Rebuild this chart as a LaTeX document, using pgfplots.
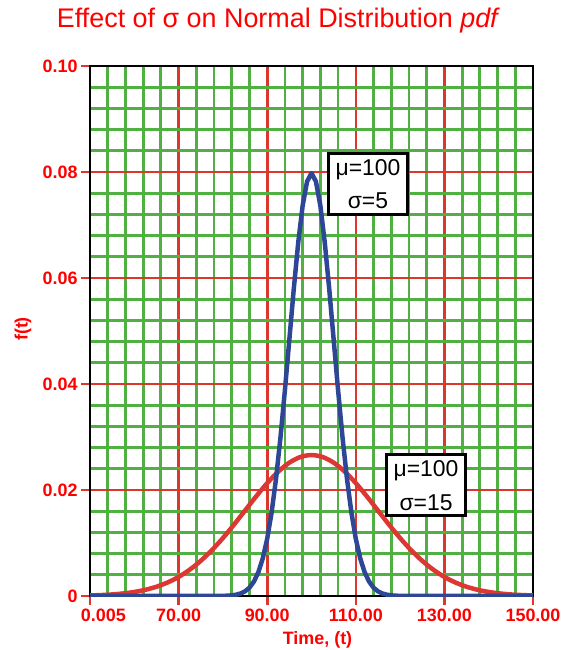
\documentclass[border=0pt]{standalone}
\usepackage{pgfplots}
\pgfplotsset{compat=1.18}
\usepackage{fontspec}
\setmainfont{Liberation Sans}
\definecolor{gridgreen}{RGB}{80,176,65}
\definecolor{gridred}{RGB}{220,55,45}
\definecolor{curvered}{RGB}{220,55,50}
\definecolor{curveblue}{RGB}{45,70,150}
\definecolor{txtred}{RGB}{255,0,0}

\begin{document}
\begin{tikzpicture}
\path[use as bounding box] (-90bp,-54bp) rectangle (471bp,596bp);
\begin{axis}[
  scale only axis, width=443bp, height=530bp,
  xmin=50, xmax=150, ymin=0, ymax=0.1,
  xtick={50,70,90,110,130,150},
  xticklabels={\makebox[0pt][l]{\kern-9bp 0.005},70.00,90.00,110.00,130.00,150.00},
  ytick={0,0.02,0.04,0.06,0.08,0.1},
  yticklabels={0,0.02,0.04,0.06,0.08,0.10},
  scaled y ticks=false,
  minor x tick num=4, minor y tick num=4,
  grid=both,
  minor grid style={gridgreen, line width=2.8bp},
  major grid style={gridred, line width=2.6bp},
  tick align=outside, xtick pos=lower, ytick pos=left,
  major tick length=9bp, minor tick length=0pt,
  major tick style={gridred, line width=2.6bp},
  axis line style={black, line width=2.6bp},
  /pgf/number format/assume math mode=true,
  ticklabel style={font=\bfseries\fontsize{18}{20}\selectfont, text=txtred},
  title={Effect of σ on Normal Distribution \textit{pdf}},
  title style={font=\fontsize{27}{30}\selectfont, text=txtred, anchor=base,
    at={(rel axis cs:0.5,1)}, xshift=-33bp, yshift=33bp},
  xlabel={Time, (t)},
  xlabel style={font=\bfseries\fontsize{18}{20}\selectfont, text=txtred, anchor=base,
    at={(rel axis cs:0.5,0)}, xshift=6bp, yshift=-48bp},
  ylabel={f(t)},
  ylabel style={font=\bfseries\fontsize{18}{20}\selectfont, text=txtred, anchor=center,
    at={(rel axis cs:0,0.5)}, yshift=67bp, xshift=2bp},
]
% sigma = 15
\addplot[curvered, line width=4.5bp, smooth] coordinates {
(50,0.000103) (52.5,0.000177) (55,0.000295) (57.5,0.000480) (60,0.000760)
(62.5,0.001169) (65,0.001748) (67.5,0.002544) (70,0.003599) (72.5,0.004954)
(75,0.006632) (77.5,0.008634) (80,0.010934) (82.5,0.013466) (85,0.016131)
(87.5,0.018794) (90,0.021296) (92.5,0.023471) (95,0.025159) (97.5,0.026229)
(100,0.026596)
(102.5,0.026229) (105,0.025159) (107.5,0.023471) (110,0.021296) (112.5,0.018794)
(115,0.016131) (117.5,0.013466) (120,0.010934) (122.5,0.008634) (125,0.006632)
(127.5,0.004954) (130,0.003599) (132.5,0.002544) (135,0.001748) (137.5,0.001169)
(140,0.000760) (142.5,0.000480) (145,0.000295) (147.5,0.000177) (150,0.000103)
};
% sigma = 5
\addplot[curveblue, line width=4.5bp, line join=round] coordinates {
(50,0) (80,0.0000268) (81,0.0000583) (82,0.000122) (83,0.00025) (84,0.000477)
(85,0.000886) (86,0.00158) (87,0.00272) (88,0.00448) (89,0.00709)
(90,0.01080) (91,0.01579) (92,0.02218) (93,0.02995) (94,0.03884)
(95,0.04839) (96,0.05794) (97,0.06665) (98,0.07365) (99,0.07821)
(100,0.07979)
(101,0.07821) (102,0.07365) (103,0.06665) (104,0.05794) (105,0.04839)
(106,0.03884) (107,0.02995) (108,0.02218) (109,0.01579) (110,0.01080)
(111,0.00709) (112,0.00448) (113,0.00272) (114,0.00158) (115,0.000886)
(116,0.000477) (117,0.00025) (118,0.000122) (119,0.0000583) (120,0.0000268)
(150,0)
};
\node[draw, line width=3bp, fill=white, align=center, inner sep=0pt,
  minimum width=79bp, minimum height=61bp,
  font=\fontsize{23}{33}\selectfont] at (axis cs:112.75,0.0777) {μ=100\\σ=5};
\node[draw, line width=3bp, fill=white, align=center, inner sep=0pt,
  minimum width=79bp, minimum height=61bp,
  font=\fontsize{23}{34}\selectfont] at (axis cs:125.85,0.02085) {μ=100\\σ=15};
\end{axis}
\end{tikzpicture}
\end{document}
